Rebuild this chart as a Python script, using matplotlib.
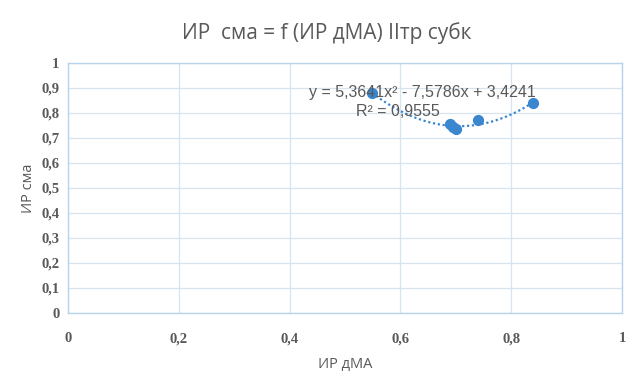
import numpy as np
import matplotlib
matplotlib.use("Agg")
import matplotlib.pyplot as plt
from matplotlib.ticker import FuncFormatter, MultipleLocator

# точки ИР дМА / ИР сма
ir_dma = [0.549, 0.690, 0.695, 0.700, 0.740, 0.840]
ir_sma = [0.880, 0.755, 0.745, 0.735, 0.770, 0.840]

# полиномиальная линия тренда (2-й степени)
coef = [5.3641, -7.5786, 3.4241]
r2 = 0.9555

grid_c = '#d6e4f0'
text_c = '#595959'
pt_c = '#3a87d0'

fig = plt.figure(figsize=(6.26, 3.71), dpi=100)
ax = fig.add_axes([0.1086, 0.1563, 0.885, 0.674])

ax.scatter(ir_dma, ir_sma, s=50, color=pt_c, zorder=3)

xs = np.linspace(min(ir_dma), max(ir_dma), 100)
ax.plot(xs, np.polyval(coef, xs), color=pt_c, lw=1.6, ls=(0, (1, 1.2)), zorder=2)

ax.set_xlim(0, 1)
ax.set_ylim(0, 1)
ax.xaxis.set_major_locator(MultipleLocator(0.2))
ax.yaxis.set_major_locator(MultipleLocator(0.1))
fmt = FuncFormatter(lambda v, p: ('%g' % round(v, 2)).replace('.', ','))
ax.xaxis.set_major_formatter(fmt)
ax.yaxis.set_major_formatter(fmt)
ax.grid(True, color=grid_c, lw=0.9)
ax.set_axisbelow(True)
for s in ax.spines.values():
    s.set_color('#b8d3ea')
    s.set_linewidth(1.0)
ax.tick_params(length=0, colors=text_c, labelsize=10.5)
for lab in ax.get_xticklabels() + ax.get_yticklabels():
    lab.set_family('Liberation Serif')
    lab.set_weight('bold')
ax.tick_params(axis='x', pad=14)
ax.tick_params(axis='y', pad=6)

ax.set_xlabel('ИР дМА', family='Open Sans', fontsize=10.5, color=text_c, labelpad=8)
ax.set_ylabel('ИР сма', family='Open Sans', fontsize=10.5, color=text_c, labelpad=4)

fig.text(0.522, 0.912, 'ИР  сма = f (ИР дМА) IIтр субк', ha='center', va='center',
         family='Open Sans', fontsize=15, color=text_c)

eq = 'y = %sx² - %sx + %s' % (str(coef[0]).replace('.', ','),
                                str(-coef[1]).replace('.', ','),
                                str(coef[2]).replace('.', ','))
ax.text(0.64, 0.88, eq, ha='center', va='center',
        family='Liberation Sans', fontsize=11.5, color=text_c, zorder=4)
ax.text(0.595, 0.805, 'R² = %s' % str(r2).replace('.', ','), ha='center', va='center',
        family='Liberation Sans', fontsize=11.5, color=text_c, zorder=4)

fig.savefig('out.png', dpi=100)
